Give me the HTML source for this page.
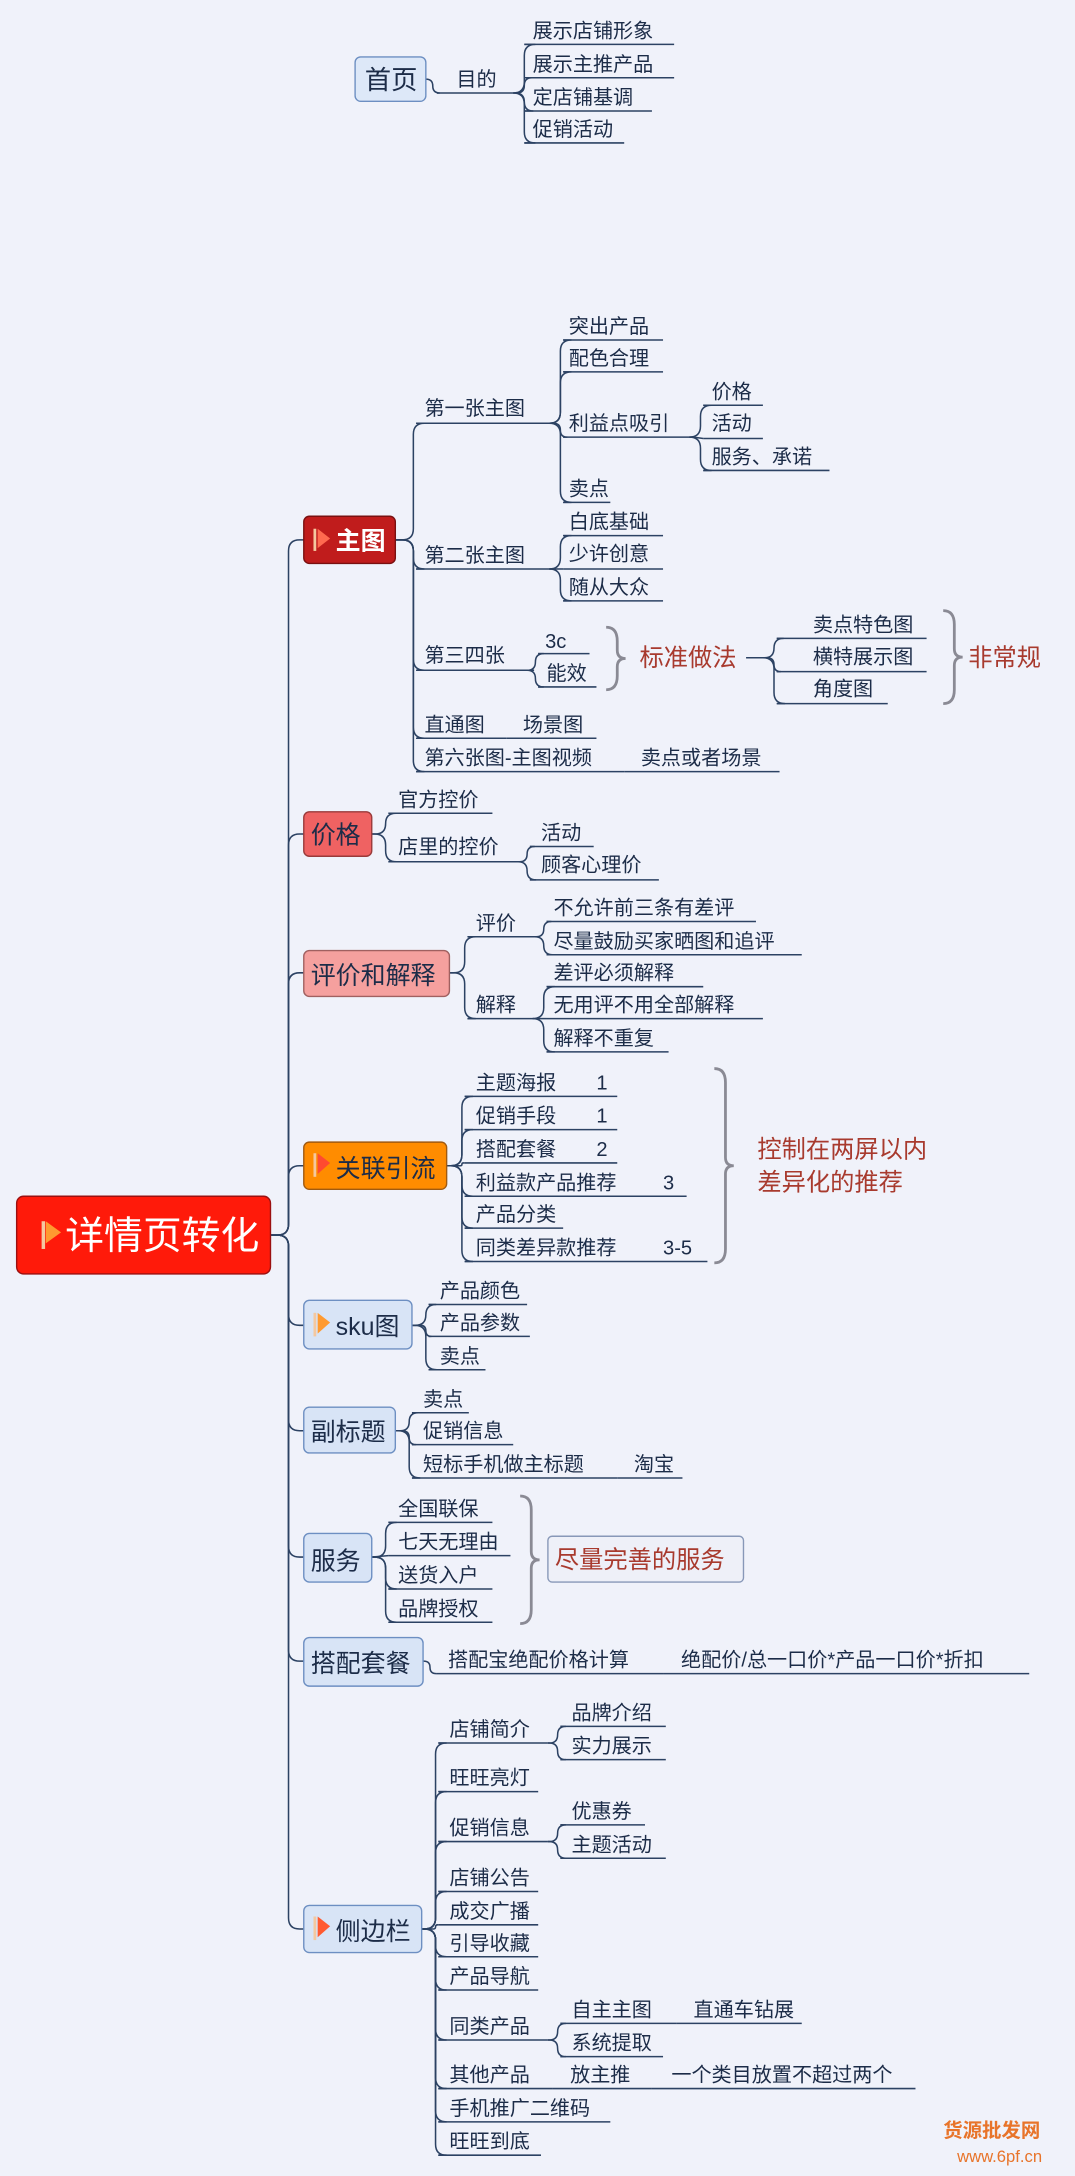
<!DOCTYPE html>
<html><head><meta charset="utf-8"><style>
html,body{margin:0;padding:0;background:#f0f2fa;}
svg{display:block}
text{font-family:"Liberation Sans","Noto Sans CJK SC",sans-serif;fill:#1c2c48;font-size:14.5px}
.r{fill:#a83a2e;font-size:17.5px}
</style></head><body>
<svg id="s" xmlns="http://www.w3.org/2000/svg" width="1075" height="2176" viewBox="0 0 775 1568" preserveAspectRatio="none">
<rect width="775" height="1568" fill="#f0f2fa"/>
<g id="lines" fill="none" stroke="#2c4263" stroke-width="1.1"></g>
<g id="br" fill="none" stroke="#8a8a94" stroke-width="2"></g>
<!-- boxes -->
<rect x="256" y="41" width="51" height="32" rx="4" fill="#dde8f8" stroke="#6d8fc2"/>
<text x="263" y="64" style="font-size:19px">首页</text>
<rect x="12" y="862" width="183" height="56" rx="5" fill="#ff1a0a" stroke="#9b1010"/>
<rect x="219" y="372" width="66" height="34" rx="4" fill="#c01c1c" stroke="#7a1010"/>
<rect x="219" y="585" width="49" height="32" rx="4" fill="#ef6262" stroke="#9a3a3a"/>
<rect x="219" y="685" width="105" height="33" rx="4" fill="#f5a09e" stroke="#a06060"/>
<rect x="219" y="823" width="103" height="34" rx="4" fill="#ff8c00" stroke="#a05a10"/>
<rect x="219" y="937" width="78" height="35" rx="4" fill="#d8e4f6" stroke="#6d8fc2"/>
<rect x="219" y="1014" width="66" height="33" rx="4" fill="#d8e4f6" stroke="#6d8fc2"/>
<rect x="219" y="1105" width="49" height="35" rx="4" fill="#d8e4f6" stroke="#6d8fc2"/>
<rect x="219" y="1180" width="86" height="35" rx="4" fill="#d8e4f6" stroke="#6d8fc2"/>
<rect x="219" y="1373" width="85" height="34" rx="4" fill="#d8e4f6" stroke="#6d8fc2"/>
<rect x="395" y="1107" width="141" height="33" rx="3" fill="#eef0f8" stroke="#8898b8"/>
<!-- flags -->
<g>
<rect x="30" y="880" width="2.5" height="20" fill="#f4c8a0"/><polygon points="33,880 44,888 33,896" fill="#ff9a30"/>
<rect x="226" y="381" width="2" height="16" fill="#f4c8a0"/><polygon points="229,381 238,388 229,395" fill="#ff6a50"/>
<rect x="226" y="831" width="2" height="17" fill="#f4c8a0"/><polygon points="229,831 238,838 229,846" fill="#ff4a30"/>
<rect x="226" y="946" width="2" height="17" fill="#f4c8a0"/><polygon points="229,946 238,953 229,961" fill="#ff9a30"/>
<rect x="226" y="1381" width="2" height="17" fill="#f4c8a0"/><polygon points="229,1381 238,1388 229,1396" fill="#ff5a30"/>
</g>
<text x="47" y="900" style="font-size:28px;fill:#fff">详情页转化</text>
<text x="242" y="396" style="font-size:18px;fill:#fff;font-weight:bold">主图</text>
<text x="224" y="608" style="font-size:18px">价格</text>
<text x="224" y="709" style="font-size:18px">评价和解释</text>
<text x="242" y="848" style="font-size:18px">关联引流</text>
<text x="242" y="962" style="font-size:18px">sku图</text>
<text x="224" y="1038" style="font-size:18px">副标题</text>
<text x="224" y="1131" style="font-size:18px">服务</text>
<text x="224" y="1205" style="font-size:18px">搭配套餐</text>
<text x="242" y="1398" style="font-size:18px">侧边栏</text>
<text x="400" y="1130" class="r">尽量完善的服务</text>
<!-- top -->
<text x="329" y="62">目的</text>
<text x="384" y="27">展示店铺形象</text>
<text x="384" y="51">展示主推产品</text>
<text x="384" y="75">定店铺基调</text>
<text x="384" y="98">促销活动</text>
<!-- 主图 -->
<text x="306" y="299">第一张主图</text>
<text x="410" y="240">突出产品</text>
<text x="410" y="263">配色合理</text>
<text x="410" y="310">利益点吸引</text>
<text x="513" y="287">价格</text>
<text x="513" y="310">活动</text>
<text x="513" y="334">服务、承诺</text>
<text x="410" y="357">卖点</text>
<text x="306" y="405">第二张主图</text>
<text x="410" y="381">白底基础</text>
<text x="410" y="404">少许创意</text>
<text x="410" y="428">随从大众</text>
<text x="306" y="477">第三四张</text>
<text x="393" y="467">3c</text>
<text x="394" y="490">能效</text>
<text x="461" y="480" class="r">标准做法</text>
<text x="586" y="455">卖点特色图</text>
<text x="586" y="478">横特展示图</text>
<text x="586" y="501">角度图</text>
<text x="698" y="480" class="r">非常规</text>
<text x="306" y="527">直通图</text>
<text x="377" y="527">场景图</text>
<text x="306" y="551">第六张图-主图视频</text>
<text x="462" y="551">卖点或者场景</text>
<!-- 价格 -->
<text x="287" y="581">官方控价</text>
<text x="287" y="615">店里的控价</text>
<text x="390" y="605">活动</text>
<text x="390" y="628">顾客心理价</text>
<!-- 评价 -->
<text x="343" y="670">评价</text>
<text x="399" y="659">不允许前三条有差评</text>
<text x="399" y="683">尽量鼓励买家晒图和追评</text>
<text x="343" y="729">解释</text>
<text x="399" y="706">差评必须解释</text>
<text x="399" y="729">无用评不用全部解释</text>
<text x="399" y="753">解释不重复</text>
<!-- 关联 -->
<text x="343" y="785">主题海报</text><text x="430" y="785">1</text>
<text x="343" y="809">促销手段</text><text x="430" y="809">1</text>
<text x="343" y="833">搭配套餐</text><text x="430" y="833">2</text>
<text x="343" y="857">利益款产品推荐</text><text x="478" y="857">3</text>
<text x="343" y="880">产品分类</text>
<text x="343" y="904">同类差异款推荐</text><text x="478" y="904">3-5</text>
<text x="546" y="834" class="r">控制在两屏以内</text>
<text x="546" y="858" class="r">差异化的推荐</text>
<!-- sku -->
<text x="317" y="935">产品颜色</text>
<text x="317" y="958">产品参数</text>
<text x="317" y="982">卖点</text>
<!-- 副标题 -->
<text x="305" y="1013">卖点</text>
<text x="305" y="1036">促销信息</text>
<text x="305" y="1060">短标手机做主标题</text>
<text x="457" y="1060">淘宝</text>
<!-- 服务 -->
<text x="287" y="1092">全国联保</text>
<text x="287" y="1116">七天无理由</text>
<text x="287" y="1140">送货入户</text>
<text x="287" y="1164">品牌授权</text>
<!-- 搭配 -->
<text x="323" y="1201">搭配宝绝配价格计算</text>
<text x="491" y="1201">绝配价/总一口价*产品一口价*折扣</text>
<!-- 侧边栏 -->
<text x="324" y="1251">店铺简介</text>
<text x="412" y="1239">品牌介绍</text>
<text x="412" y="1263">实力展示</text>
<text x="324" y="1286">旺旺亮灯</text>
<text x="324" y="1322">促销信息</text>
<text x="412" y="1310">优惠券</text>
<text x="412" y="1334">主题活动</text>
<text x="324" y="1358">店铺公告</text>
<text x="324" y="1382">成交广播</text>
<text x="324" y="1405">引导收藏</text>
<text x="324" y="1429">产品导航</text>
<text x="324" y="1465">同类产品</text>
<text x="412" y="1453">自主主图</text>
<text x="500" y="1453">直通车钻展</text>
<text x="412" y="1477">系统提取</text>
<text x="324" y="1500">其他产品</text>
<text x="411" y="1500">放主推</text>
<text x="484" y="1500">一个类目放置不超过两个</text>
<text x="324" y="1524">手机推广二维码</text>
<text x="324" y="1548">旺旺到底</text>
<text x="680" y="1540" style="font-size:14px;fill:#e8742a;font-weight:bold">货源批发网</text>
<text x="690" y="1558" style="font-size:12px;fill:#e8742a">www.6pf.cn</text>
<script>
var ns="http://www.w3.org/2000/svg",L=document.getElementById("lines"),B=document.getElementById("br");
function p(g,d){var e=document.createElementNS(ns,"path");e.setAttribute("d",d);g.appendChild(e);}
function c(px,py,vx,cx,cy){var dy=cy-py;if(Math.abs(dy)<2){p(L,"M"+px+" "+py+"L"+cx+" "+cy);return;}
var s=dy>0?1:-1,r=Math.min(8,Math.abs(dy)/2);
p(L,"M"+px+" "+py+"L"+(vx-r)+" "+py+"Q"+vx+" "+py+" "+vx+" "+(py+s*r)+"L"+vx+" "+(cy-s*r)+"Q"+vx+" "+cy+" "+(vx+r)+" "+cy+"L"+cx+" "+cy);}
function u(x1,x2,y){p(L,"M"+x1+" "+y+"L"+x2+" "+y);}
function grp(px,py,vx,arr){arr.forEach(function(a){u(a[0],a[1],a[2]);c(px,py,vx,a[0],a[2]);});}
function brace(x,y1,y2){var m=(y1+y2)/2;p(B,"M"+x+" "+y1+"Q"+(x+8)+" "+y1+" "+(x+8)+" "+(y1+10)+"L"+(x+8)+" "+(m-6)+"Q"+(x+8)+" "+m+" "+(x+14)+" "+m+"Q"+(x+8)+" "+m+" "+(x+8)+" "+(m+6)+"L"+(x+8)+" "+(y2-10)+"Q"+(x+8)+" "+y2+" "+x+" "+y2);}
// top
u(315,372,67);c(307,57,312,315,67);
grp(372,67,378,[[378,486,32],[378,486,56],[378,470,80],[378,450,103]]);
// root trunk
[389,601,701,840,955,1031,1122,1197,1390].forEach(function(y){c(195,890,208,219,y);});
// 主图
grp(285,389,298,[[300,399,305],[300,399,410],[300,385,483],[300,365,532],[300,450,556]]);
grp(399,305,404,[[406,478,245],[406,478,268],[406,500,315],[406,440,362]]);
grp(500,315,505,[[507,550,292],[507,550,316],[507,598,339]]);
grp(399,410,404,[[406,478,386],[406,478,410],[406,478,433]]);
grp(385,483,386,[[388,425,471],[388,430,495]]);
u(365,430,532);u(450,562,556);
grp(538,474,558,[[560,668,460],[560,668,484],[560,640,507]]);
brace(437,452,497);brace(680,440,507);brace(515,770,910);brace(375,1078,1170);
// 价格
grp(268,601,278,[[280,355,586],[280,372,621]]);
grp(372,621,380,[[382,428,610],[382,475,634]]);
// 评价
grp(324,701,335,[[337,385,675],[337,385,734]]);
grp(385,675,392,[[394,545,664],[394,578,688]]);
grp(385,734,392,[[394,507,711],[394,550,734],[394,482,758]]);
// 关联
grp(322,840,333,[[335,445,790],[335,445,814],[335,445,838],[335,495,862],[335,406,885],[335,510,909]]);
// sku
grp(297,955,307,[[309,380,940],[309,382,963],[309,350,987]]);
// 副标题
grp(285,1031,295,[[297,338,1018],[297,370,1041],[297,445,1065]]);u(445,492,1065);
// 服务
grp(268,1122,278,[[280,355,1097],[280,368,1121],[280,355,1145],[280,355,1169]]);
// 搭配
u(315,478,1206);c(305,1197,310,315,1206);u(478,742,1206);
// 侧边栏
grp(304,1390,314,[[316,395,1256],[316,388,1291],[316,395,1327],[316,388,1363],[316,388,1387],[316,388,1410],[316,388,1434],[316,395,1470],[316,398,1505],[316,440,1529],[316,390,1553]]);
grp(395,1256,402,[[404,480,1244],[404,480,1268]]);
grp(395,1327,402,[[404,465,1315],[404,480,1339]]);
grp(395,1470,402,[[404,488,1458],[404,478,1482]]);u(488,578,1458);
u(398,470,1505);u(470,660,1505);
</script>
</svg>
</body></html>
